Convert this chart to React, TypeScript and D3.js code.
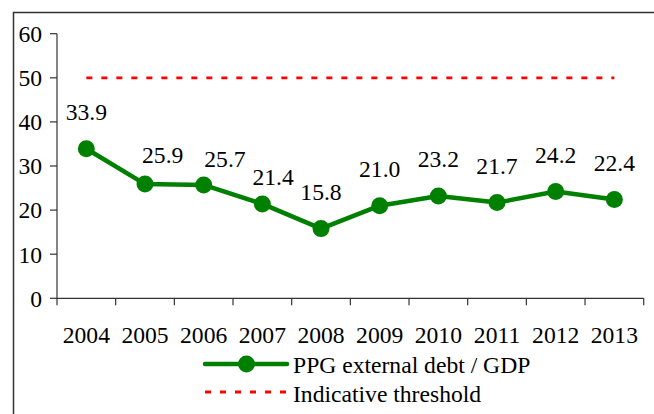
import React from "react";
import * as d3 from "d3";

const years = ["2004", "2005", "2006", "2007", "2008", "2009", "2010", "2011", "2012", "2013"];
const debtValues = [33.9, 25.9, 25.7, 21.4, 15.8, 21.0, 23.2, 21.7, 24.2, 22.4];
const thresholdValues = [50, 50, 50, 50, 50, 50, 50, 50, 50, 50];
const yTicks = [0, 10, 20, 30, 40, 50, 60];
const seriesNames = ["PPG external debt / GDP", "Indicative threshold"];
// label nudges (layout), matching manual label placement in the original
const labelDx = [0, 17.7, 21.3, 10.7, 0, 0, 0, 0, 0, 0];
const labelDy = [-28.8, -21.4, -18, -19, -28.8, -28.8, -28.8, -28.8, -28.8, -28.8];

const W = 654;
const H = 414;
const FONT = "Liberation Serif, Times New Roman, serif";
const GREEN = "#008000";
const RED = "#FF0000";
const FS = 22.5;
const SX = 1.05;

function Txt(props: { x: number; y: number; anchor?: "start" | "middle" | "end"; children: React.ReactNode }) {
  return (
    <text
      transform={`translate(${props.x},${props.y}) scale(${SX},1)`}
      textAnchor={props.anchor || "start"}
      style={{ fontFamily: FONT, fontSize: FS }}
      fill="#000"
    >
      {props.children}
    </text>
  );
}

export default function App() {
  const x = d3.scaleBand<string>().domain(years).range([57, 643.7]).padding(0);
  const y = d3.scaleLinear().domain([0, 60]).range([298.3, 33.7]);
  const cx = (yr: string) => (x(yr) as number) + x.bandwidth() / 2;

  const line = d3
    .line<number>()
    .x((_, i) => cx(years[i]))
    .y((d) => y(d));

  return (
    <svg
      width={W}
      height={H}
      style={{ position: "absolute", left: 0, top: 0, background: "#fff" }}
    >
      <rect x={0} y={0} width={W} height={H} fill="#fff" />
      {/* outer frame */}
      <rect x={13.5} y={12.5} width={W + 20} height={H + 20} fill="none" stroke="#333" strokeWidth={1.5} />

      {/* y axis */}
      <line x1={57} x2={57} y1={y(60)} y2={y(0)} stroke="#333" strokeWidth={1.2} />
      {yTicks.map((t) => (
        <g key={t}>
          <line x1={50} x2={57} y1={y(t)} y2={y(t)} stroke="#333" strokeWidth={1.2} />
          <Txt x={42} y={y(t) + 8.3} anchor="end">
            {t}
          </Txt>
        </g>
      ))}

      {/* x axis */}
      <line x1={57} x2={643.7} y1={y(0)} y2={y(0)} stroke="#333" strokeWidth={1.2} />
      {years.map((yr) => (
        <line
          key={"t" + yr}
          x1={x(yr) as number}
          x2={x(yr) as number}
          y1={y(0)}
          y2={y(0) + 7}
          stroke="#333"
          strokeWidth={1.2}
        />
      ))}
      <line x1={643.7} x2={643.7} y1={y(0)} y2={y(0) + 7} stroke="#333" strokeWidth={1.2} />
      {years.map((yr) => (
        <Txt key={"l" + yr} x={cx(yr)} y={343.3} anchor="middle">
          {yr}
        </Txt>
      ))}

      {/* threshold */}
      <path
        d={line(thresholdValues) as string}
        fill="none"
        stroke={RED}
        strokeWidth={2.8}
        strokeDasharray="6 9"
      />

      {/* debt line */}
      <path d={line(debtValues) as string} fill="none" stroke={GREEN} strokeWidth={4.5} strokeLinejoin="round" />
      {debtValues.map((v, i) => (
        <circle key={"c" + i} cx={cx(years[i])} cy={y(v)} r={8.5} fill={GREEN} />
      ))}
      {debtValues.map((v, i) => (
        <Txt key={"v" + i} x={cx(years[i]) + labelDx[i]} y={y(v) + labelDy[i]} anchor="middle">
          {v.toFixed(1)}
        </Txt>
      ))}

      {/* legend */}
      <line x1={205} x2={287} y1={364} y2={364} stroke={GREEN} strokeWidth={4.5} strokeLinecap="round" />
      <circle cx={246.5} cy={364} r={8.5} fill={GREEN} />
      <Txt x={293} y={373}>{seriesNames[0]}</Txt>
      <line x1={205} x2={287} y1={392} y2={392} stroke={RED} strokeWidth={2.8} strokeDasharray="6 9" />
      <Txt x={293} y={401.5}>{seriesNames[1]}</Txt>
    </svg>
  );
}
